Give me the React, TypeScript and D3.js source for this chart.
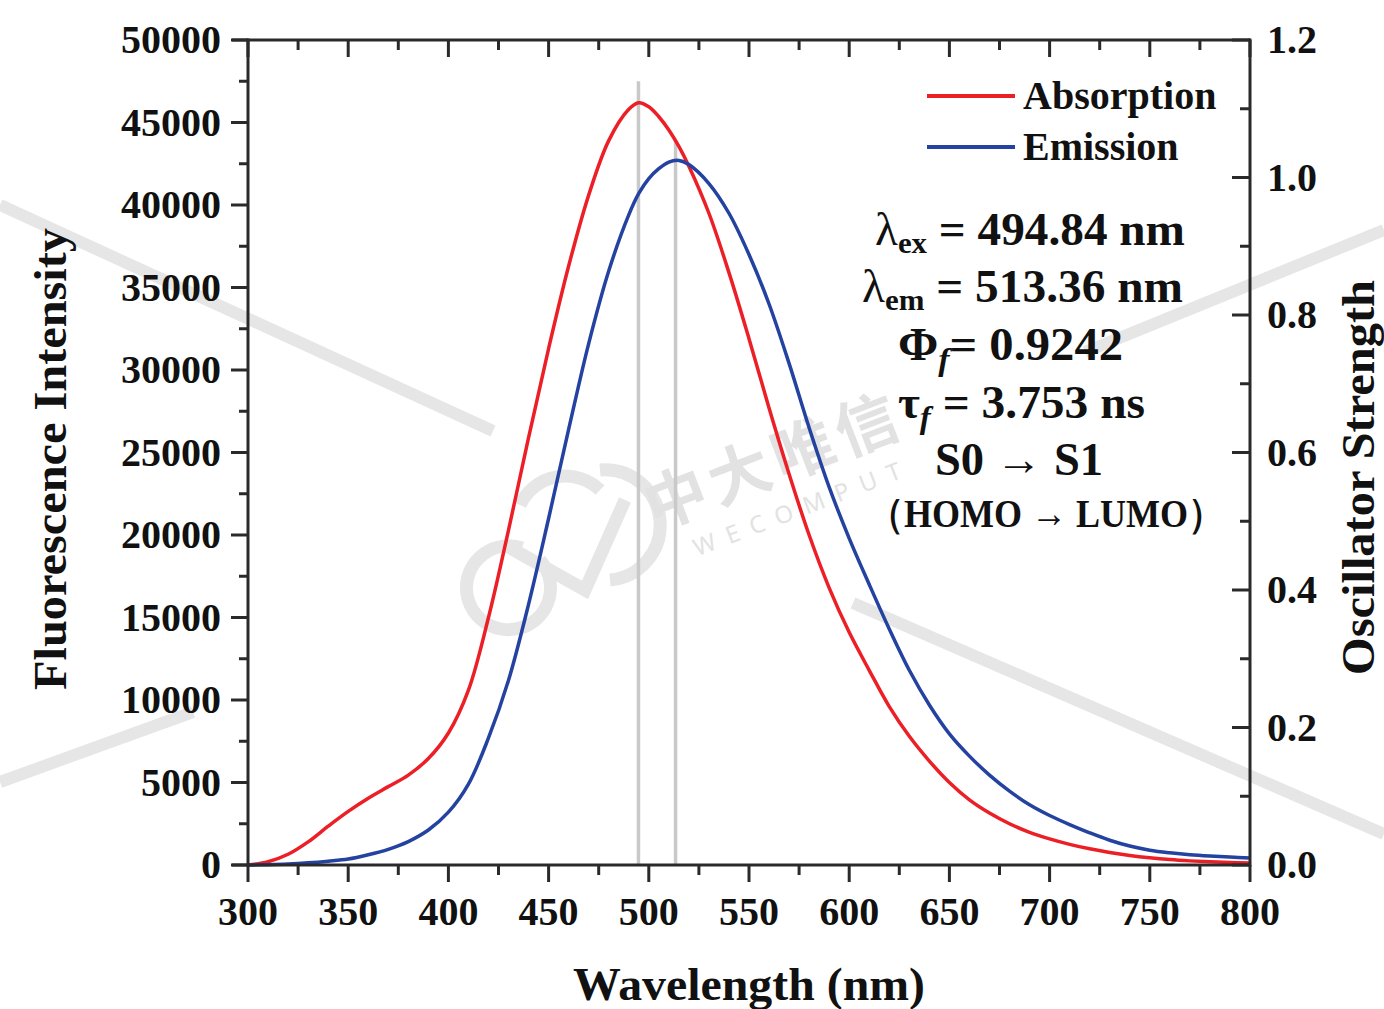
import React from "react";
import * as d3 from "d3";

const wavelengths = [300,310,320,330,340,350,360,370,380,390,400,410,420,430,440,450,460,470,480,490,495,500,505,510,515,520,530,540,550,560,570,580,590,600,610,620,630,640,650,660,670,680,690,700,710,720,730,740,750,760,770,780,790,800];
const absorption = [0,200,650,1400,2350,3250,4050,4750,5450,6450,8000,10600,15000,20300,25900,31300,36300,40600,43900,45800,46200,45950,45350,44550,43550,42350,39500,35900,31900,27700,23700,20000,16800,14100,11800,9600,7800,6300,5000,3950,3150,2500,1980,1580,1250,980,760,580,440,330,250,190,150,120];
const emission = [0,20,60,130,230,360,620,950,1420,2120,3200,4900,7700,11200,15800,21000,26400,31600,36000,39400,40700,41600,42200,42600,42700,42450,41300,39500,37000,34000,30400,26500,22900,19800,17000,14300,11800,9700,7950,6600,5450,4480,3650,3000,2450,1950,1500,1150,900,740,620,540,480,430];
const sticks = [{ wl: 494.84, f: 1.14 }, { wl: 513.36, f: 1.055 }];
const xTicks = [300,350,400,450,500,550,600,650,700,750,800];
const yTicks = [0,5000,10000,15000,20000,25000,30000,35000,40000,45000,50000];
const y2Ticks = [0,0.2,0.4,0.6,0.8,1.0,1.2];

const FONT = "'Liberation Serif', 'Times New Roman', serif";

export default function App() {
  const W = 1384, H = 1009;
  const L = 248, R = 1250, T = 40, B = 865;
  const x = d3.scaleLinear().domain([300, 800]).range([L, R]);
  const y = d3.scaleLinear().domain([0, 50000]).range([B, T]);
  const y2 = d3.scaleLinear().domain([0, 1.2]).range([B, T]);
  const line = d3
    .line<number>()
    .x((_, i) => x(wavelengths[i]))
    .y((d) => y(d))
    .curve(d3.curveCatmullRom.alpha(0.5));

  const xMinor = d3.range(300, 801, 25);
  const yMinor = d3.range(0, 50001, 2500);
  const y2Minor = d3.range(0, 1.2001, 0.1);
  const axisColor = "#2a2a2a";
  const wm = "#e6e6e6";

  return (
    <svg width={W} height={H} style={{ position: "absolute", left: 0, top: 0, background: "#fff" }} fontFamily={FONT}>
      <rect x={0} y={0} width={W} height={H} fill="#fff" />
      {/* watermark */}
      <g stroke={wm} strokeWidth={12} fill="none">
        <line x1={0} y1={205} x2={493} y2={431} />
        <line x1={0} y1={782} x2={193} y2={712} />
        <line x1={1085} y1={352} x2={1384} y2={230} />
        <line x1={853} y1={603} x2={1384} y2={834} />
        <path d="M 540 560 A 42 42 0 1 1 522 548" strokeWidth={13} />
        <path d="M 520 505 A 50 50 0 0 1 600 490" strokeWidth={13} />
        <path d="M 505 545 L 585 590 L 625 500" strokeWidth={13} />
        <path d="M 600 470 A 55 55 0 0 1 610 580" strokeWidth={13} />
      </g>
      <g fill="#e2e2e2" transform="translate(655,530) rotate(-21)">
        <text fontFamily="'Noto Sans CJK SC', sans-serif" fontSize={62} fontWeight={700} letterSpacing={6}>中大唯信</text>
        <text x={30} y={40} fontFamily="'Noto Sans', sans-serif" fontSize={24} letterSpacing={12}>WECOMPUT</text>
      </g>

      {/* sticks */}
      {sticks.map((s, i) => (
        <line key={i} x1={x(s.wl)} x2={x(s.wl)} y1={B} y2={y2(s.f)} stroke="#c9c9c9" strokeWidth={3.5} />
      ))}

      {/* curves */}
      <path d={line(absorption) || ""} fill="none" stroke="#ec1f27" strokeWidth={3.5} />
      <path d={line(emission) || ""} fill="none" stroke="#2442a0" strokeWidth={3.5} />

      {/* axes frame */}
      <g stroke={axisColor} strokeWidth={3}>
        <line x1={L} x2={L} y1={T - 1.5} y2={B + 1.5} />
        <line x1={R} x2={R} y1={T - 1.5} y2={B + 1.5} />
        <line x1={L - 16} x2={R} y1={T} y2={T} />
        <line x1={L - 16} x2={R} y1={B} y2={B} />
        {xMinor.map((v) => {
          const major = v % 50 === 0;
          return (
            <g key={"x" + v}>
              <line x1={x(v)} x2={x(v)} y1={B} y2={B + (major ? 17 : 10)} />
              <line x1={x(v)} x2={x(v)} y1={T} y2={T + (major ? 17 : 10)} />
            </g>
          );
        })}
        {yMinor.map((v) => {
          const major = v % 5000 === 0;
          return <line key={"y" + v} x1={L - (major ? 17 : 9)} x2={L} y1={y(v)} y2={y(v)} />;
        })}
        {y2Minor.map((v, i) => {
          const major = i % 2 === 0;
          return <line key={"r" + i} x1={R - (major ? 18 : 10)} x2={R} y1={y2(v)} y2={y2(v)} />;
        })}
      </g>

      {/* tick labels */}
      <g fontSize={40} fontWeight={700} fill="#111">
        {xTicks.map((v) => (
          <text key={"xl" + v} x={x(v)} y={925} textAnchor="middle">{v}</text>
        ))}
        {yTicks.map((v) => (
          <text key={"yl" + v} x={221} y={y(v) + 13} textAnchor="end">{v}</text>
        ))}
        {y2Ticks.map((v) => (
          <text key={"rl" + v} x={1267} y={y2(v) + 13} textAnchor="start">{v.toFixed(1)}</text>
        ))}
      </g>

      {/* axis titles */}
      <text x={573} y={1000} textLength={352} lengthAdjust="spacingAndGlyphs" fontSize={46} fontWeight={700} fill="#111">Wavelength (nm)</text>
      <text transform="translate(66,690) rotate(-90)" textLength={462} lengthAdjust="spacingAndGlyphs" fontSize={46} fontWeight={700} fill="#111">Fluorescence Intensity</text>
      <text transform="translate(1374,675) rotate(-90)" textLength={395} lengthAdjust="spacingAndGlyphs" fontSize={46} fontWeight={700} fill="#111">Oscillator Strength</text>

      {/* legend */}
      <line x1={927} x2={1015} y1={96} y2={96} stroke="#ec1f27" strokeWidth={4} />
      <line x1={927} x2={1015} y1={147} y2={147} stroke="#2442a0" strokeWidth={4} />
      <g fontSize={40} fontWeight={700} fill="#111">
        <text x={1023} y={109}>Absorption</text>
        <text x={1023} y={160}>Emission</text>
      </g>

      {/* annotation */}
      <g fontSize={46} fontWeight={700} fill="#111">
        <text x={875} y={245} textLength={310} lengthAdjust="spacingAndGlyphs">
          <tspan fontWeight={400}>λ</tspan>
          <tspan fontSize={30} dy={8}>ex</tspan>
          <tspan dy={-8}> = 494.84 nm</tspan>
        </text>
        <text x={862} y={302} textLength={321} lengthAdjust="spacingAndGlyphs">
          <tspan fontWeight={400}>λ</tspan>
          <tspan fontSize={30} dy={8}>em</tspan>
          <tspan dy={-8}> = 513.36 nm</tspan>
        </text>
        <text x={898} y={360} textLength={225} lengthAdjust="spacingAndGlyphs">
          <tspan>Φ</tspan>
          <tspan fontSize={32} fontStyle="italic" dy={10}>f</tspan>
          <tspan dy={-10}>= 0.9242</tspan>
        </text>
        <text x={898} y={418} textLength={247} lengthAdjust="spacingAndGlyphs">
          <tspan>τ</tspan>
          <tspan fontSize={32} fontStyle="italic" dy={10}>f</tspan>
          <tspan dy={-10}> = 3.753 ns</tspan>
        </text>
        <text x={935} y={475} textLength={168} lengthAdjust="spacingAndGlyphs">S0 → S1</text>
        <text x={868} y={527} fontSize={40} textLength={356} lengthAdjust="spacingAndGlyphs">（HOMO → LUMO）</text>
      </g>
    </svg>
  );
}
